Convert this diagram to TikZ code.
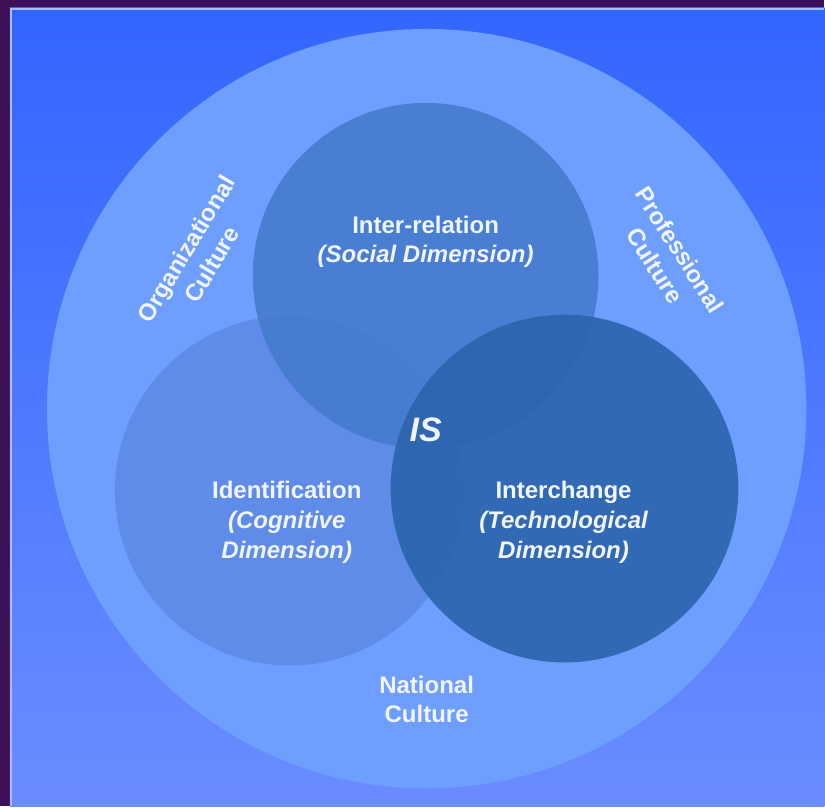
\documentclass[tikz,border=0pt]{standalone}
\usepackage{fontspec}
\setmainfont{Liberation Sans}
\definecolor{frame}{HTML}{3D1058}
\definecolor{bgtop}{HTML}{3366FF}
\definecolor{bgbot}{HTML}{6A8CFF}
\definecolor{edgeline}{HTML}{A8BEFF}
\definecolor{outer}{HTML}{6E9EFF}
\definecolor{cogn}{HTML}{5E8CE8}
\definecolor{soc}{HTML}{467BCF}
\definecolor{tech}{HTML}{2C64AE}
\definecolor{txt}{HTML}{F0F5FF}
\begin{document}
\begin{tikzpicture}[x=0.03cm,y=-0.03cm,
	disc/.style={circle,inner sep=0pt,draw=none},
	lbl/.style={text=txt,align=center,font=\fontsize{20.5}{25.5}\selectfont\bfseries}]
	% frame and background
	\fill[frame] (0,0) rectangle (825,807);
	\shade[top color=bgtop,bottom color=bgbot] (10,8) rectangle (825,807);
	\draw[edgeline,line width=1.2pt] (11,807) -- (11,9) -- (825,9);
	% circles
	\node[disc,fill=outer,minimum size=22.8cm] (nat) at (427,409) {};
	\node[disc,fill=cogn,minimum size=10.5cm] (cog) at (290,491) {};
	\node[disc,fill=soc,fill opacity=0.9,minimum size=10.38cm] (soc) at (426,276) {};
	\node[disc,fill=tech,fill opacity=0.9,minimum size=10.44cm] (tec) at (565,489) {};
	% labels
	\node[lbl] (socl) at (426,242) {Inter-relation\\\itshape(Social Dimension)};
	\node[lbl] (cogl) at (287,523) {Identification\\\itshape(Cognitive\\\itshape Dimension)};
	\node[lbl] (tecl) at (564,523) {Interchange\\\itshape(Technological\\\itshape Dimension)};
	\node[lbl,font=\fontsize{29}{30}\selectfont\bfseries\itshape] (is) at (426,430) {IS};
	\node[lbl] (natl) at (427,700) {National\\Culture};
	\node[lbl,rotate=59] (orgl) at (199,257) {Organizational\\Culture};
	\node[lbl,rotate=-57.5] (prol) at (668,258) {Professional\\Culture};
\end{tikzpicture}
\end{document}
